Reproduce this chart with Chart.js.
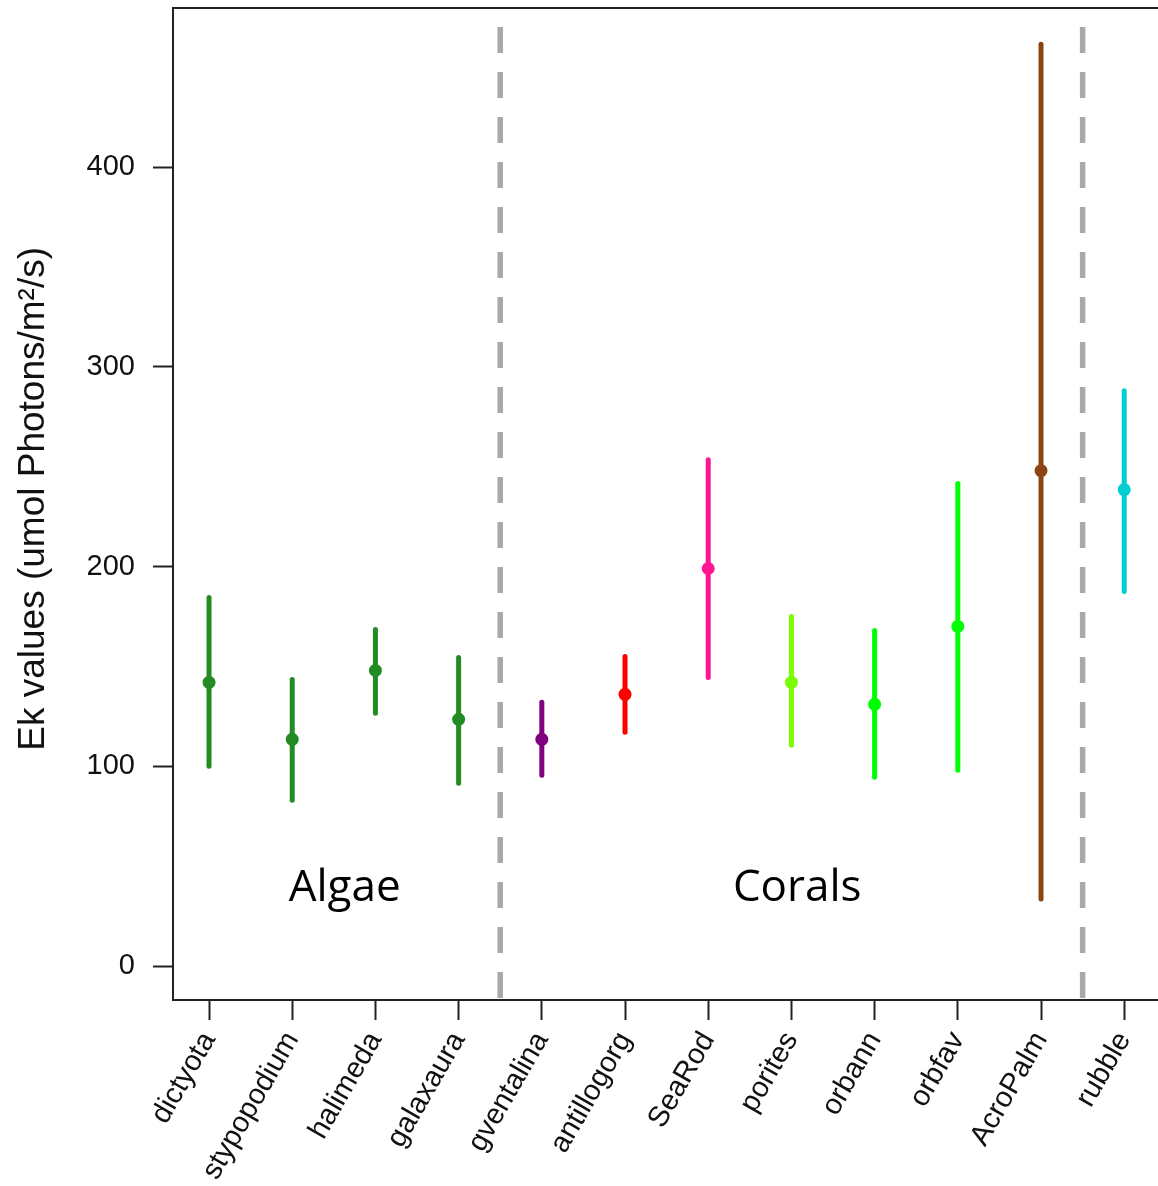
<!DOCTYPE html>
<html>
<head>
<meta charset="utf-8">
<script src="https://cdn.jsdelivr.net/npm/chart.js@4.4.1/dist/chart.umd.min.js"></script>
<style>
  html, body { margin: 0; padding: 0; background: #fff; overflow: hidden; }
</style>
</head>
<body>
<canvas id="c" width="1158" height="1186"></canvas>
<script>
// ---- data ----
const categories = ['dictyota','stypopodium','halimeda','galaxaura','gventalina','antillogorg','SeaRod','porites','orbann','orbfav','AcroPalm','rubble'];
const means = [142, 113.5, 148, 123.5, 113.5, 136, 199, 142, 131, 170, 248, 238.5];
const lows  = [100, 83, 126.5, 91.5, 95.5, 117, 144.5, 110.5, 94.5, 98, 33.5, 187.5];
const highs = [184.5, 143.5, 168.5, 154.5, 132, 155, 253.5, 175, 168, 241.5, 461.5, 288];
const colors = ['#228B22','#228B22','#228B22','#228B22','#800080','#FF0000','#FF1493','#7CFC00','#00FF00','#00FF00','#8B4513','#00CED1'];
const yTicks = [0, 100, 200, 300, 400];
const dividers = [3.5, 10.5];
const groupLabels = ['Algae', 'Corals'];
const groupX = [1.63, 7.07];
const groupY = [39, 39];
const xLimits = [-0.433, 11.406];
const yLimits = [-17, 479.6];

// ---- datasets ----
const datasets = [];
dividers.forEach(d => {
  datasets.push({
    type: 'line',
    data: [{x: d, y: yLimits[1]}, {x: d, y: yLimits[0]}],
    borderColor: '#A9A9A9', borderWidth: 5.5, borderDash: [26, 19], borderDashOffset: 26,
    pointRadius: 0, borderCapStyle: 'butt', fill: false
  });
});
categories.forEach((c, i) => {
  datasets.push({
    type: 'line',
    data: [{x: i, y: lows[i]}, {x: i, y: highs[i]}],
    borderColor: colors[i], borderWidth: 5, pointRadius: 0, borderCapStyle: 'round', fill: false
  });
});
datasets.push({
  type: 'scatter',
  data: means.map((m, i) => ({x: i, y: m})),
  backgroundColor: colors, borderColor: colors, pointRadius: 6.5, pointBorderWidth: 0
});

const frame = {
  id: 'frame',
  afterDraw(chart) {
    const {ctx, chartArea: a, scales: {x, y}} = chart;
    ctx.save();
    ctx.strokeStyle = '#222';
    ctx.lineWidth = 2;
    ctx.beginPath();
    ctx.moveTo(a.left - 1, a.top); ctx.lineTo(a.right + 5, a.top);
    ctx.stroke();
    ctx.fillStyle = '#000';
    ctx.font = '44px "Open Sans"';
    ctx.textAlign = 'center';
    ctx.textBaseline = 'middle';
    groupLabels.forEach((t, i) => ctx.fillText(t, x.getPixelForValue(groupX[i]), y.getPixelForValue(groupY[i])));
    ctx.restore();
  }
};

const zeroPad = s => { s.paddingTop = 0; s.paddingBottom = 0; s.paddingLeft = 0; s.paddingRight = 0; };

new Chart(document.getElementById('c'), {
  type: 'scatter',
  data: { datasets },
  plugins: [frame],
  options: {
    responsive: false, animation: false, devicePixelRatio: 1,
    layout: { autoPadding: false, padding: { top: 8, right: 0, left: 0, bottom: 0 } },
    plugins: { legend: { display: false }, tooltip: { enabled: false } },
    scales: {
      x: {
        type: 'linear', min: xLimits[0], max: xLimits[1],
        afterBuildTicks: s => { s.ticks = categories.map((c, i) => ({ value: i })); },
        afterFit: s => { s.height = 186; zeroPad(s); },
        ticks: {
          callback: v => categories[v] ?? '',
          autoSkip: false, minRotation: 60, maxRotation: 60,
          font: { family: '"Liberation Sans", Arial', size: 29 }, color: '#111', padding: 6
        },
        grid: { drawOnChartArea: false, drawTicks: true, tickLength: 20, tickWidth: 2, tickColor: '#222' },
        border: { display: true, color: '#222', width: 2 }
      },
      y: {
        type: 'linear', min: yLimits[0], max: yLimits[1],
        afterBuildTicks: s => { s.ticks = yTicks.map(v => ({ value: v })); },
        afterFit: s => { s.width = 173; zeroPad(s); },
        ticks: { font: { family: '"Liberation Sans", Arial', size: 29 }, color: '#111', padding: 18 },
        grid: { drawOnChartArea: false, drawTicks: true, tickLength: 20, tickWidth: 2, tickColor: '#222' },
        border: { display: true, color: '#222', width: 2 },
        title: {
          display: true, text: '\u00A0Ek values (umol Photons/m²/s)',
          font: { family: '"Liberation Sans", Arial', size: 37 }, color: '#111',
          padding: { top: 12, bottom: 0 }
        }
      }
    }
  }
});
</script>
</body>
</html>
